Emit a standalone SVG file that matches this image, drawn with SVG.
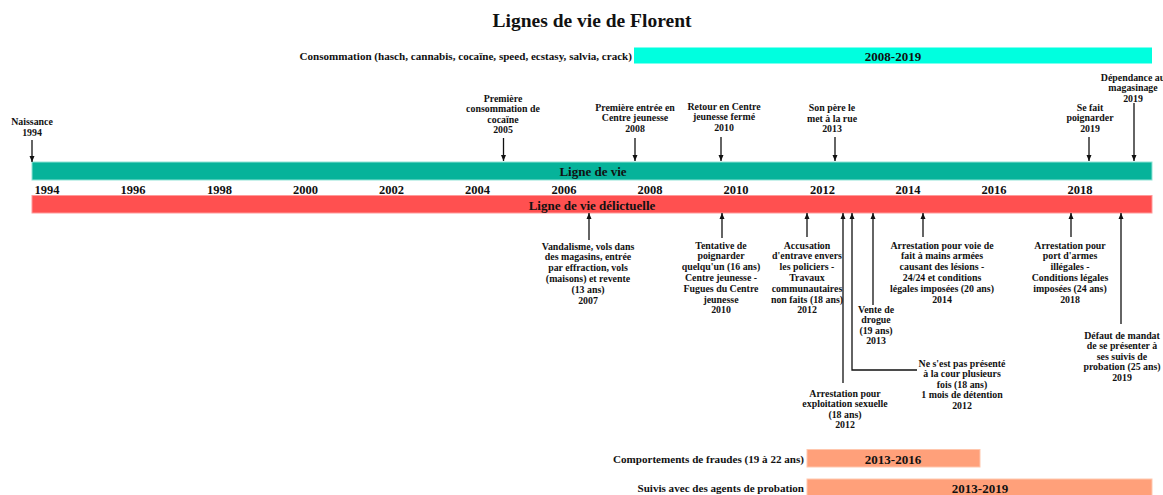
<svg xmlns="http://www.w3.org/2000/svg" width="1163" height="495" viewBox="0 0 1163 495">
<defs>
<style>
text{font-family:"Liberation Serif","Times New Roman",serif;font-weight:bold;fill:#111;}
.t{font-size:9.9px;text-anchor:middle;}
.yr{font-size:12.5px;text-anchor:middle;}
.bl{font-size:13px;text-anchor:middle;}
.lab{font-size:11.1px;text-anchor:end;}
.ln{stroke:#111;stroke-width:1.3;fill:none;}
.ar{marker-end:url(#ah);}
</style>
<marker id="ah" viewBox="0 0 6 6" refX="6" refY="3" markerWidth="6" markerHeight="6" markerUnits="userSpaceOnUse" orient="auto">
<path d="M0,0.5 L6,3 L0,5.5 z" fill="#111"/>
</marker>
</defs>
<rect width="1163" height="495" fill="#fff"/>
<text x="592" y="27" style="font-size:19.5px;text-anchor:middle">Lignes de vie de Florent</text>

<g id="consommation">
<text class="lab" x="632" y="59.8">Consommation (hasch, cannabis, cocaïne, speed, ecstasy, salvia, crack)</text>
<rect x="634" y="47.5" width="518" height="16" fill="#00FFDF"/>
<text class="bl" x="893" y="60.5">2008-2019</text>
</g>

<g id="ligne-vie">
<rect x="32" y="162" width="1120" height="18" fill="#06B39A" stroke="#8FE3D6" stroke-width="1"/>
<text class="bl" x="593" y="175.5">Ligne de vie</text>
</g>

<g id="annees">
<text class="yr" x="47" y="193.5">1994</text>
<text class="yr" x="133" y="193.5">1996</text>
<text class="yr" x="219.5" y="193.5">1998</text>
<text class="yr" x="305.5" y="193.5">2000</text>
<text class="yr" x="391.5" y="193.5">2002</text>
<text class="yr" x="477.5" y="193.5">2004</text>
<text class="yr" x="564" y="193.5">2006</text>
<text class="yr" x="650" y="193.5">2008</text>
<text class="yr" x="736" y="193.5">2010</text>
<text class="yr" x="822.5" y="193.5">2012</text>
<text class="yr" x="908" y="193.5">2014</text>
<text class="yr" x="994" y="193.5">2016</text>
<text class="yr" x="1080" y="193.5">2018</text>
</g>

<g id="ligne-delictuelle">
<rect x="32" y="195.5" width="1120" height="17.5" fill="#FF5050" stroke="#FF9A9A" stroke-width="1"/>
<text class="bl" x="592" y="209.5">Ligne de vie délictuelle</text>
</g>

<g id="connecteurs">
<line class="ln ar" x1="32" y1="140" x2="32" y2="162"/>
<line class="ln ar" x1="503.5" y1="138" x2="503.5" y2="161"/>
<line class="ln ar" x1="635" y1="138" x2="635" y2="161"/>
<line class="ln ar" x1="721" y1="137" x2="721" y2="161"/>
<line class="ln ar" x1="835" y1="137" x2="835" y2="161"/>
<line class="ln ar" x1="1089" y1="137" x2="1089" y2="161"/>
<line class="ln ar" x1="1134" y1="103" x2="1134" y2="161"/>

<line class="ln ar" x1="589" y1="240" x2="589" y2="213"/>
<line class="ln ar" x1="722" y1="238" x2="722" y2="213"/>
<line class="ln ar" x1="807" y1="237" x2="807" y2="213"/>
<line class="ln ar" x1="843" y1="383" x2="843" y2="213"/>
<polyline class="ln ar" points="917,370 852,370 852,213"/>
<line class="ln ar" x1="873" y1="305" x2="873" y2="213"/>
<line class="ln ar" x1="923" y1="237" x2="923" y2="213"/>
<line class="ln ar" x1="1071" y1="237" x2="1071" y2="213"/>
<line class="ln ar" x1="1121" y1="324" x2="1121" y2="213"/>
</g>

<g id="naissance">
<text class="t" x="32" y="125.3">Naissance</text>
<text class="t" x="32" y="135.8">1994</text>
</g>
<g id="cocaine">
<text class="t" x="503" y="101.5">Première</text>
<text class="t" x="503" y="112">consommation de</text>
<text class="t" x="503" y="122.5">cocaïne</text>
<text class="t" x="503" y="133">2005</text>
</g>
<g id="centre-jeunesse">
<text class="t" x="635" y="110.5">Première entrée en</text>
<text class="t" x="635" y="121">Centre jeunesse</text>
<text class="t" x="635" y="131.5">2008</text>
</g>
<g id="retour-centre">
<text class="t" x="724" y="109.5">Retour en Centre</text>
<text class="t" x="724" y="120">jeunesse fermé</text>
<text class="t" x="724" y="130.5">2010</text>
</g>
<g id="pere">
<text class="t" x="832" y="111">Son père le</text>
<text class="t" x="832" y="121.5">met à la rue</text>
<text class="t" x="832" y="132">2013</text>
</g>
<g id="poignarder">
<text class="t" x="1090" y="110.5">Se fait</text>
<text class="t" x="1090" y="121">poignarder</text>
<text class="t" x="1090" y="131.5">2019</text>
</g>
<g id="magasinage">
<text class="t" x="1133" y="80.5">Dépendance au</text>
<text class="t" x="1133" y="91">magasinage</text>
<text class="t" x="1133" y="101.5">2019</text>
</g>

<g id="vandalisme">
<text class="t" x="588" y="249.5">Vandalisme, vols dans</text>
<text class="t" x="588" y="260.3">des magasins, entrée</text>
<text class="t" x="588" y="271.1">par effraction, vols</text>
<text class="t" x="588" y="281.9">(maisons) et revente</text>
<text class="t" x="588" y="292.7">(13 ans)</text>
<text class="t" x="588" y="303.5">2007</text>
</g>
<g id="tentative">
<text class="t" x="721" y="248.5">Tentative de</text>
<text class="t" x="721" y="259.3">poignarder</text>
<text class="t" x="721" y="270.1">quelqu'un (16 ans)</text>
<text class="t" x="721" y="280.9">Centre jeunesse -</text>
<text class="t" x="721" y="291.7">Fugues du Centre</text>
<text class="t" x="721" y="302.5">jeunesse</text>
<text class="t" x="721" y="313.3">2010</text>
</g>
<g id="entrave">
<text class="t" x="807" y="248.5">Accusation</text>
<text class="t" x="807" y="259.3">d'entrave envers</text>
<text class="t" x="807" y="270.1">les policiers -</text>
<text class="t" x="807" y="280.9">Travaux</text>
<text class="t" x="807" y="291.7">communautaires</text>
<text class="t" x="807" y="302.5">non faits (18 ans)</text>
<text class="t" x="807" y="313.3">2012</text>
</g>
<g id="voie-de-fait">
<text class="t" x="942" y="248.5">Arrestation pour voie de</text>
<text class="t" x="942" y="259.3">fait à mains armées</text>
<text class="t" x="942" y="270.1">causant des lésions -</text>
<text class="t" x="942" y="280.9">24/24 et conditions</text>
<text class="t" x="942" y="291.7">légales imposées (20 ans)</text>
<text class="t" x="942" y="302.5">2014</text>
</g>
<g id="port-armes">
<text class="t" x="1070" y="248.5">Arrestation pour</text>
<text class="t" x="1070" y="259.3">port d'armes</text>
<text class="t" x="1070" y="270.1">illégales -</text>
<text class="t" x="1070" y="280.9">Conditions légales</text>
<text class="t" x="1070" y="291.7">imposées (24 ans)</text>
<text class="t" x="1070" y="302.5">2018</text>
</g>
<g id="vente-drogue">
<text class="t" x="876" y="312.5">Vente de</text>
<text class="t" x="876" y="323.1">drogue</text>
<text class="t" x="876" y="333.7">(19 ans)</text>
<text class="t" x="876" y="344.3">2013</text>
</g>
<g id="cour">
<text class="t" x="962" y="366.5">Ne s'est pas présenté</text>
<text class="t" x="962" y="377.1">à la cour plusieurs</text>
<text class="t" x="962" y="387.7">fois (18 ans)</text>
<text class="t" x="962" y="398.3">1 mois de détention</text>
<text class="t" x="962" y="408.9">2012</text>
</g>
<g id="exploitation">
<text class="t" x="845" y="396.5">Arrestation pour</text>
<text class="t" x="845" y="407.1">exploitation sexuelle</text>
<text class="t" x="845" y="417.7">(18 ans)</text>
<text class="t" x="845" y="428.3">2012</text>
</g>
<g id="defaut-mandat">
<text class="t" x="1122" y="338.5">Défaut de mandat</text>
<text class="t" x="1122" y="349.1">de se présenter à</text>
<text class="t" x="1122" y="359.7">ses suivis de</text>
<text class="t" x="1122" y="370.3">probation (25 ans)</text>
<text class="t" x="1122" y="380.9">2019</text>
</g>

<g id="fraudes">
<text class="lab" x="804" y="462.8">Comportements de fraudes (19 à 22 ans)</text>
<rect x="807" y="449.5" width="173" height="17.5" fill="#FFA07A" stroke="#FFC7AE" stroke-width="1"/>
<text class="bl" x="893" y="463.5">2013-2016</text>
</g>
<g id="probation">
<text class="lab" x="804" y="492.3">Suivis avec des agents de probation</text>
<rect x="807" y="479" width="345" height="17" fill="#FFA07A" stroke="#FFC7AE" stroke-width="1"/>
<text class="bl" x="980" y="493">2013-2019</text>
</g>
</svg>
